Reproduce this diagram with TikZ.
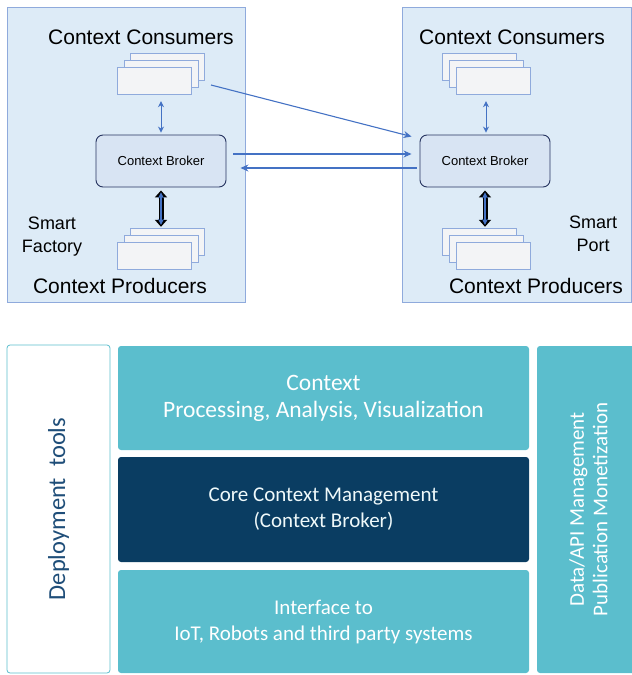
\documentclass[tikz,border=0pt]{standalone}
\usepackage{fontspec}
\setmainfont{Liberation Sans}
\newfontfamily\calibri{Carlito}
\usetikzlibrary{arrows.meta}
\definecolor{panelfill}{RGB}{221,235,247}
\definecolor{panelline}{RGB}{143,170,220}
\definecolor{cardfill}{RGB}{243,244,246}
\definecolor{brokerfill}{RGB}{216,228,243}
\definecolor{brokerline}{RGB}{38,52,96}
\definecolor{arrowblue}{RGB}{68,114,196}
\definecolor{teal}{RGB}{91,190,205}
\definecolor{navy}{RGB}{10,61,98}
\definecolor{navytext}{RGB}{31,78,121}
\tikzset{
  panel/.style={draw=panelline, fill=panelfill, line width=0.8pt},
  card/.style={draw=panelline, fill=cardfill, minimum width=74pt, minimum height=27pt, inner sep=0pt},
  broker/.style={draw=brokerline, fill=brokerfill, rounded corners=7pt, line width=0.9pt,
    minimum width=130pt, minimum height=52pt, font=\fontsize{13}{15}\selectfont},
  title/.style={font=\fontsize{21}{24}\selectfont},
  site/.style={font=\fontsize{18}{23}\selectfont, align=center},
  link/.style={draw=arrowblue, line width=1.1pt, -{Stealth[length=8pt,width=7pt]}},
  biarrow/.style={draw=arrowblue, line width=1pt, {Stealth[length=6pt,width=6pt]}-{Stealth[length=6pt,width=6pt]}},
  layer/.style={fill=teal, rounded corners=3pt, text=white, align=center, inner sep=0pt,
    font=\calibri\fontsize{21}{26}\selectfont},
}
\begin{document}
\begin{tikzpicture}[x=1pt,y=-1pt]
\useasboundingbox (0,0) rectangle (632,675);
% upper half: two sites
\draw[panel] (7,7) rectangle (245,302);
\draw[panel] (402,7) rectangle (631.6,302);

\node[title] (lcons) at (141,37) {Context Consumers};
\node[title] (rcons) at (512,37) {Context Consumers};
\node[title] (lprod) at (120,286) {Context Producers};
\node[title] (rprod) at (536,286) {Context Producers};
\node[site] (lsite) at (52,237) {Smart\\Factory};
\node[site] (rsite) at (593,234) {Smart\\Port};

% stacks of cards
\node[card] (lc1) at (167.5,66.5) {};
\node[card] (lc2) at (161,73.5) {};
\node[card] (lc3) at (154,80.5) {};
\node[card] (lp1) at (167.5,241.5) {};
\node[card] (lp2) at (161,248.5) {};
\node[card] (lp3) at (154,255.5) {};
\node[card] (rc1) at (479,66.5) {};
\node[card] (rc2) at (486,73.5) {};
\node[card] (rc3) at (493,80.5) {};
\node[card] (rp1) at (479,241.5) {};
\node[card] (rp2) at (486,248.5) {};
\node[card] (rp3) at (493,255.5) {};

\node[broker] (lbroker) at (161,161) {Context Broker};
\node[broker] (rbroker) at (485,161) {Context Broker};

% links inside each site
\draw[biarrow, shorten <=7pt, shorten >=2pt] (lc2 |- lc3.south) -- (lbroker.north -| lc2);
\draw[biarrow, shorten <=7pt, shorten >=2pt] (rc2 |- rc3.south) -- (rbroker.north -| rc2);
\foreach \b/\p in {lbroker/lp1, rbroker/rp1}{
  \draw[line width=5pt, {Triangle[length=7pt,width=12pt]}-{Triangle[length=7pt,width=12pt]}, shorten <=3pt, shorten >=1pt] (\b.south) -- (\b.south |- \p.north);
  \draw[biarrow, line width=1.6pt, shorten <=5pt, shorten >=3pt] (\b.south) -- (\b.south |- \p.north);
}

% links between the sites
\coordinate (lcout) at (211,85);
\draw[link] (lcout) -- ([xshift=-8pt,yshift=-2pt]rbroker.north west);
\draw[link, shorten <=7pt, shorten >=8pt] ([yshift=7pt]lbroker.east) -- ([yshift=7pt]rbroker.west);
\draw[link, shorten <=3pt, shorten >=14pt] ([yshift=-7pt]rbroker.west) -- ([yshift=-7pt]lbroker.east);

% lower half: layers
\node[draw=teal, fill=white, rounded corners=3pt, line width=0.8pt, minimum width=103pt, minimum height=328pt] (deploy) at (58.5,509) {};
\node[rotate=90, text=navytext, font=\calibri\fontsize{24.5}{28}\selectfont] (deploytext) at (deploy.center) {Deployment\ \ tools};
\node[layer, minimum width=411pt, minimum height=104pt, font=\calibri\fontsize{23.5}{27}\selectfont] (proc) at (323.5,398) {Context\\Processing, Analysis, Visualization};
\node[layer, fill=navy, text=white!90!teal, minimum width=411pt, minimum height=105pt] (core) at (323.5,509.5) {Core Context Management\\(Context Broker)};
\node[layer, minimum width=411pt, minimum height=103pt] (iface) at (323.5,621.5) {Interface to\\IoT, Robots and third party systems};
\node[layer, minimum width=103pt, minimum height=327pt] (api) at (588.5,509.5) {};
\node[rotate=90, text=white, align=center, font=\calibri\fontsize{21}{23.5}\selectfont] (apitext) at (api.center) {Data/API Management\\Publication Monetization};
\end{tikzpicture}
\end{document}
